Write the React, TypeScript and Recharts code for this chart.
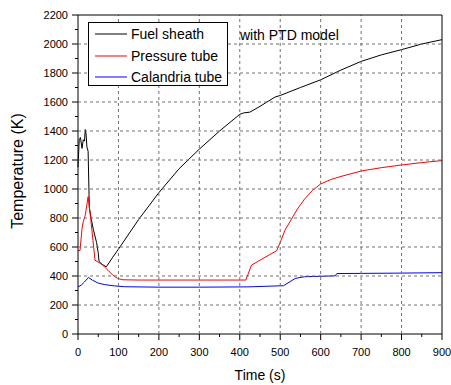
import React from 'react';
import { LineChart, Line, XAxis, YAxis, Legend, Label } from 'recharts';

// time (s) / temperature (K)
const fuelTime = [0, 3, 6, 10, 13, 16, 18, 20, 22, 25, 28, 33, 38, 46, 50, 52, 60, 70, 86, 100, 150, 200, 250, 300, 350, 400, 410, 425, 450, 487, 500, 550, 600, 650, 700, 750, 800, 850, 900];
const fuelTemp = [1150, 1340, 1355, 1280, 1340, 1330, 1410, 1380, 1290, 1260, 870, 790, 720, 630, 560, 500, 480, 463, 530, 585, 790, 975, 1140, 1275, 1400, 1515, 1525, 1530, 1570, 1634, 1645, 1700, 1753, 1820, 1880, 1925, 1961, 2000, 2030];

const pressureTime = [0, 5, 10, 13, 18, 25, 30, 37, 42, 53, 61, 74, 86, 98, 111, 150, 415, 429, 460, 491, 499, 512, 541, 560, 580, 600, 625, 648, 700, 750, 801, 850, 900];
const pressureTemp = [575, 575, 728, 774, 820, 947, 832, 647, 509, 491, 475, 440, 406, 383, 374, 372, 372, 475, 525, 574, 625, 717, 855, 930, 990, 1035, 1065, 1085, 1124, 1147, 1166, 1182, 1196];

const calandriaTime = [0, 8, 16, 26, 36, 49, 65, 90, 115, 200, 300, 420, 508, 537, 560, 636, 640, 700, 800, 900];
const calandriaTemp = [325, 337, 359, 390, 371, 352, 341, 332, 326, 323, 323, 325, 333, 383, 395, 401, 417, 418, 420, 423];

const xTicks = Array.from({ length: 19 }, (_, i) => i * 50);
const yTicks = Array.from({ length: 23 }, (_, i) => i * 100);

const series = [
  { name: 'Fuel sheath', color: '#000000', time: fuelTime, temp: fuelTemp },
  { name: 'Pressure tube', color: '#ff0000', time: pressureTime, temp: pressureTemp },
  { name: 'Calandria tube', color: '#0000ff', time: calandriaTime, temp: calandriaTemp },
];

const font = '"Liberation Sans", Arial, sans-serif';
// plot area size (chart 451x385, margins + axis sizes below)
const PLOT_W = 364;
const PLOT_H = 319;

// x ticks also carry the vertical grid and the right frame
function XTick({ x, y, payload }: any) {
  const v = payload.value;
  const major = v % 100 === 0;
  return (
    <g>
      {major && v > 0 && v < 900 && (
        <line x1={x} x2={x} y1={y} y2={y - PLOT_H} stroke="#707070" strokeDasharray="3 3" />
      )}
      {v === 900 && <line x1={x} x2={x} y1={y} y2={y - PLOT_H} stroke="#000" />}
      <line x1={x} x2={x} y1={y} y2={y + (major ? 6 : 3)} stroke="#000" />
      {major && (
        <text x={x} y={y + 22} textAnchor="middle" fontSize={11} fontFamily={font} fill="#000">
          {v}
        </text>
      )}
    </g>
  );
}

// y ticks also carry the horizontal grid and the top frame
function YTick({ x, y, payload }: any) {
  const v = payload.value;
  const major = v % 200 === 0;
  return (
    <g>
      {major && v > 0 && v < 2200 && (
        <line x1={x} x2={x + PLOT_W} y1={y} y2={y} stroke="#707070" strokeDasharray="3 3" />
      )}
      {v === 2200 && <line x1={x} x2={x + PLOT_W} y1={y} y2={y} stroke="#000" />}
      <line x1={x - (major ? 6 : 3)} x2={x} y1={y} y2={y} stroke="#000" />
      {major && (
        <text x={x - 10} y={y + 4} textAnchor="end" fontSize={11} fontFamily={font} fill="#000">
          {v}
        </text>
      )}
    </g>
  );
}

function LegendBox() {
  return (
    <div style={{ border: '1px solid #000', background: '#fff', width: 138, height: 62, fontFamily: font, fontSize: 14, position: 'relative' }}>
      {series.map((s, i) => (
        <div key={s.name} style={{ position: 'absolute', left: 0, top: 2 + i * 21.7, height: 18, display: 'flex', alignItems: 'center', whiteSpace: 'nowrap' }}>
          <svg width={42} height={18}>
            <line x1={6} x2={38} y1={9} y2={9} stroke={s.color} strokeWidth={1} />
          </svg>
          <span style={{ color: '#000' }}>{s.name}</span>
        </div>
      ))}
    </div>
  );
}

export default function App() {
  return (
    <div style={{ position: 'absolute', left: 0, top: 0, width: 451, height: 385, background: '#fff' }}>
      <LineChart width={451} height={385} margin={{ top: 15, right: 9, bottom: 0, left: 0 }}>
        <XAxis
          type="number"
          dataKey="t"
          domain={[0, 900]}
          ticks={xTicks}
          interval={0}
          height={51}
          tickSize={0}
          tickMargin={0}
          tickLine={false}
          tick={<XTick />}
          stroke="#000"
          allowDuplicatedCategory={false}
        >
          <Label
            content={() => (
              <text x={260} y={380} textAnchor="middle" fontSize={14} fontFamily={font} fill="#000">
                Time (s)
              </text>
            )}
          />
        </XAxis>
        <YAxis
          type="number"
          domain={[0, 2200]}
          ticks={yTicks}
          interval={0}
          width={78}
          tickSize={0}
          tickMargin={0}
          tickLine={false}
          tick={<YTick />}
          stroke="#000"
        >
          <Label
            content={() => (
              <text x={23} y={171} transform="rotate(-90 23 171)" textAnchor="middle" fontSize={16} fontFamily={font} fill="#000">
                Temperature (K)
              </text>
            )}
          />
        </YAxis>
        {series.map((s) => (
          <Line
            key={s.name}
            name={s.name}
            data={s.time.map((t, i) => ({ t, v: s.temp[i] }))}
            dataKey="v"
            stroke={s.color}
            strokeWidth={1}
            dot={false}
            activeDot={false}
            isAnimationActive={false}
          />
        ))}
        <Legend
          layout="vertical"
          align="center"
          verticalAlign="middle"
          content={() => <LegendBox />}
          wrapperStyle={{ left: 88, top: 22, width: 140, height: 64 }}
        />
      </LineChart>
      <div style={{ position: 'absolute', left: 240, top: 27, fontFamily: font, fontSize: 14, lineHeight: '16px', color: '#000', whiteSpace: 'nowrap' }}>
        with PTD model
      </div>
    </div>
  );
}
